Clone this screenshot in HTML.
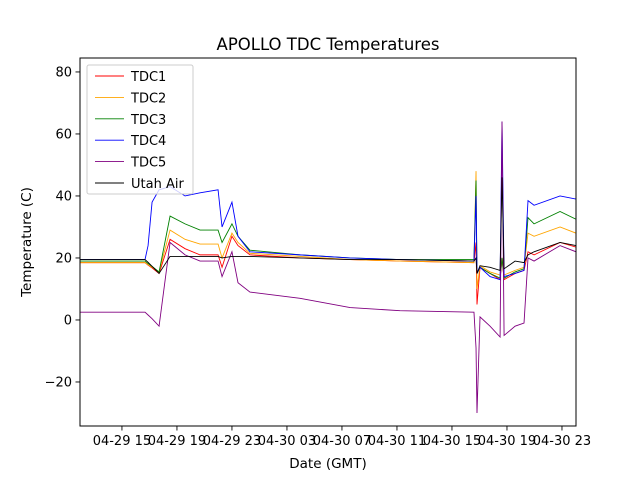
<!DOCTYPE html>
<html><head><meta charset="utf-8"><style>
body{margin:0;background:#fff}
svg{display:block;font-family:"DejaVu Sans","Liberation Sans",sans-serif}
</style></head><body>
<svg id="chart" width="640" height="480">
<rect width="640" height="480" fill="#fff"/>
<text x="328" y="50" text-anchor="middle" font-size="16.5">APOLLO TDC Temperatures</text>
<text x="328" y="468" text-anchor="middle" font-size="13.5">Date (GMT)</text>
<text transform="translate(31,242) rotate(-90)" text-anchor="middle" font-size="13.5">Temperature (C)</text>
<g id="plot"></g>
<g id="axes"></g>
<g id="legend"></g>
</svg>
<script>
const hours = [11.95,16.68,16.90,17.19,17.70,18.50,19.59,20.68,21.99,22.28,23.00,23.44,24.31,27.95,31.59,35.22,40.60,40.75,40.82,41.04,41.77,42.50,42.64,42.79,43.59,44.24,44.53,44.97,46.86,48.02];
const tdc1 = [18.5,18.5,17.7,16.8,15,26,23,21,21,17,27,24,21,20,19.5,19,18.5,25,5,17,15,13,20,13,15,16,22,21,25,23.5];
const tdc2 = [18.5,18.5,17.8,17.0,15.5,29,26,24.5,24.5,20,28,25,21.5,20.5,19.5,19,18.5,48,10,17.5,15.5,14.5,20,14.5,16,17,28,27,30,28];
const tdc3 = [19,19,18.2,17.3,15.5,33.5,31,29,29,25,31,27,22.5,21,20,19.5,19.5,45,15,17,15,13.5,20,13.5,15.5,16.5,33,31,35,32.5];
const tdc4 = [19.5,19.5,24,38,42,43,40,41,42,30,38,27,22,21,20,19.5,19,40,15,17,14,13,64,14,15,16,38.5,37,40,39];
const tdc5 = [2.5,2.5,1.6,0.4,-2,25,21,19,19,14,22,12,9,7,4,3,2.5,-9,-30,1,-2,-5.5,64,-5,-2,-1,20,19,24,22];
const utahAir = [19.5,19.5,18.6,17.3,15,20.5,20.5,20.5,20.5,20,20.5,20.5,20.5,20,19.5,19.5,19,20,15,17.5,17,16,46,16.5,19,18.5,21,22,25,24];
const seriesNames = ["TDC1","TDC2","TDC3","TDC4","TDC5","Utah Air"];
const yTicks = [-20,0,20,40,60,80];
const xTickHours = [15,19,23,27,31,35,39,43,47];
const xTickLabels = ["04-29 15","04-29 19","04-29 23","04-30 03","04-30 07","04-30 11","04-30 15","04-30 19","04-30 23"];

const L=80,R=576,T=58,B=426, xMin=11.95,xMax=48.02, yMin=-34.2,yMax=84.5;
const xs=h=>L+(h-xMin)/(xMax-xMin)*(R-L);
const ys=v=>B-(v-yMin)/(yMax-yMin)*(B-T);
const NS="http://www.w3.org/2000/svg";
function mk(tag,attrs,parent){const e=document.createElementNS(NS,tag);for(const k in attrs)e.setAttribute(k,attrs[k]);parent.appendChild(e);return e;}
const plot=document.getElementById('plot'),axes=document.getElementById('axes'),legend=document.getElementById('legend');
const data=[tdc1,tdc2,tdc3,tdc4,tdc5,utahAir];
const colors=["red","orange","green","blue","purple","black"];
const keys=["tdc1","tdc2","tdc3","tdc4","tdc5","utah-air"];
const cp=mk('clipPath',{id:'clip'},plot);
mk('rect',{x:L,y:T,width:R-L,height:B-T},cp);
data.forEach((arr,i)=>{
  const d=arr.map((v,j)=>(j?'L':'M')+xs(hours[j]).toFixed(2)+' '+ys(v).toFixed(2)).join(' ');
  const p=mk('path',{d:d,fill:'none',stroke:colors[i],'stroke-width':0.9,'clip-path':'url(#clip)'},plot);
  
  
});
const frame=mk('rect',{x:L,y:T,width:R-L,height:B-T,fill:'none',stroke:'#000','stroke-width':1},axes);


yTicks.forEach(v=>{
  const y=ys(v);
  const t=mk('line',{x1:L-4.5,x2:L,y1:y,y2:y,stroke:'#000','stroke-width':0.9},axes);
  
  
  const lb=mk('text',{x:L-8,y:y+4.5,'text-anchor':'end','font-size':13},axes);
  lb.textContent=v<0?'\u2212'+Math.abs(v):String(v);
  
  
});
xTickHours.forEach((h,i)=>{
  const x=xs(h);
  const t=mk('line',{x1:x,x2:x,y1:B,y2:B+4.5,stroke:'#000','stroke-width':0.9},axes);
  
  
  const lb=mk('text',{x:x,y:B+19,'text-anchor':'middle','font-size':13},axes);
  lb.textContent=xTickLabels[i];
  
  
});
const box=mk('rect',{x:87,y:65,width:106,height:129,rx:2,fill:'#fff','fill-opacity':0.8,stroke:'#ccc','stroke-width':1},legend);


seriesNames.forEach((n,i)=>{
  const y=76+i*21.4;
  const g=mk('g',{},legend);
  
  
  mk('line',{x1:95,x2:124,y1:y,y2:y,stroke:colors[i],'stroke-width':0.9},g);
  const tx=mk('text',{x:131,y:y+5,'font-size':13},g);
  tx.textContent=n;
});
</script>
</body></html>
